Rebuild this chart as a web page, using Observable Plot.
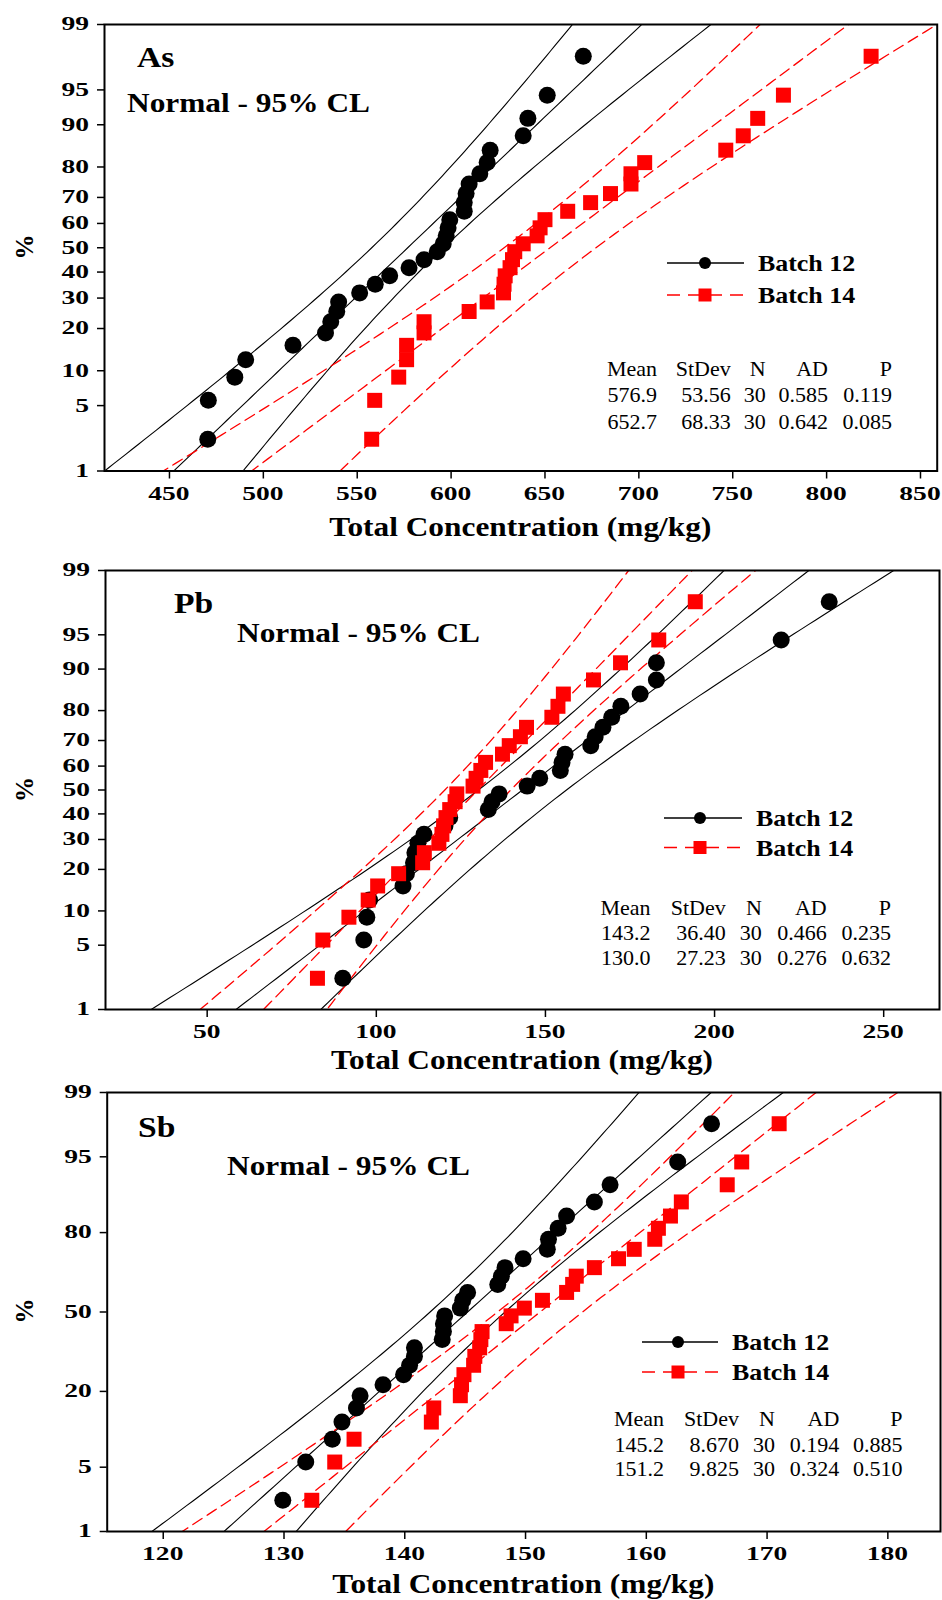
<!DOCTYPE html>
<html>
<head>
<meta charset="utf-8">
<script src="https://cdn.jsdelivr.net/npm/d3@7"></script>
<script src="https://cdn.jsdelivr.net/npm/@observablehq/plot@0.6"></script>
<style>
  html, body { margin: 0; padding: 0; background: #fff; }
  #chart svg { display: block; }
</style>
</head>
<body>
<div id="chart"></div>
<script>
// ---------------- DATA ----------------
// plotting positions (%) of the 30 ranked observations (median ranks)
const plotPositions = [2.30, 5.59, 8.88, 12.17, 15.46, 18.75, 22.04, 25.33, 28.62, 31.91,
  35.20, 38.49, 41.78, 45.07, 48.36, 51.64, 54.93, 58.22, 61.51, 64.80,
  68.09, 71.38, 74.67, 77.96, 81.25, 84.54, 87.83, 91.12, 94.41, 97.70];

const yTicksFine = [1, 5, 10, 20, 30, 40, 50, 60, 70, 80, 90, 95, 99];
const yTicksCoarse = [1, 5, 20, 50, 80, 95, 99];

const xTicksAs = [450, 500, 550, 600, 650, 700, 750, 800, 850];
const xTicksPb = [50, 100, 150, 200, 250];
const xTicksSb = [120, 130, 140, 150, 160, 170, 180];

const asBatch12 = [470.4, 470.7, 484.8, 490.6, 515.8, 533.1, 535.9, 539.1, 540.1, 551.3,
  559.6, 567.3, 577.6, 585.6, 592.6, 595.8, 597.4, 598.4, 599.3, 607.0,
  607.0, 608.0, 609.6, 615.3, 619.2, 620.8, 638.4, 640.9, 651.2, 670.4];
const asBatch14 = [557.7, 559.3, 572.1, 576.3, 576.3, 585.6, 585.6, 609.6, 619.2, 627.9,
  628.2, 628.8, 631.4, 632.7, 633.9, 638.4, 645.8, 647.4, 650.0, 662.1,
  674.3, 684.9, 695.8, 695.8, 703.1, 746.3, 755.6, 763.3, 777.0, 823.7];
const pbBatch12 = [90.1, 96.3, 97.2, 98.0, 107.9, 108.9, 111.0, 111.4, 112.3, 114.1,
  120.3, 121.7, 133.1, 134.2, 136.3, 144.6, 148.3, 154.4, 154.9, 155.8,
  163.4, 164.7, 167.0, 169.6, 172.3, 178.0, 182.8, 182.8, 219.7, 233.9];
const pbBatch14 = [82.6, 84.2, 91.9, 97.6, 100.4, 106.6, 113.7, 114.2, 118.5, 119.4,
  119.9, 120.6, 121.7, 123.3, 123.8, 128.6, 129.5, 130.9, 132.3, 137.3,
  139.3, 142.6, 144.4, 151.9, 153.7, 155.3, 164.2, 172.2, 183.5, 194.3];
const sbBatch12 = [129.9, 131.8, 134.0, 134.8, 136.0, 136.3, 138.2, 139.9, 140.4, 140.8,
  140.8, 143.1, 143.2, 143.2, 143.3, 144.6, 144.8, 145.2, 147.7, 148.0,
  148.3, 149.8, 151.8, 151.9, 152.7, 153.4, 155.7, 157.0, 162.6, 165.4];
const sbBatch14 = [132.3, 134.2, 135.8, 142.2, 142.4, 144.6, 144.7, 144.9, 145.7, 145.8,
  146.2, 146.3, 146.4, 148.4, 148.8, 149.9, 151.4, 153.4, 153.9, 154.2,
  155.7, 157.7, 159.0, 160.7, 161.0, 162.0, 162.9, 166.7, 167.9, 171.0];

const elements = ["As", "Pb", "Sb"];
const batchNames = ["Batch 12", "Batch 14"];
const mean12 = [576.9, 143.2, 145.2];
const sd12 = [53.56, 36.40, 8.670];
const mean14 = [652.7, 130.0, 151.2];
const sd14 = [68.33, 27.23, 9.825];
const sampleN = [30, 30, 30];
const statHeaders = ["Mean", "StDev", "N", "AD", "P"];
const statsBatch12 = [["576.9", "53.56", "30", "0.585", "0.119"],
                      ["143.2", "36.40", "30", "0.466", "0.235"],
                      ["145.2", "8.670", "30", "0.194", "0.885"]];
const statsBatch14 = [["652.7", "68.33", "30", "0.642", "0.085"],
                      ["130.0", "27.23", "30", "0.276", "0.632"],
                      ["151.2", "9.825", "30", "0.324", "0.510"]];
const subtitle = "Normal - 95% CL";
const xLabel = "Total Concentration (mg/kg)";
const yLabel = "%";

// ---------------- LAYOUT ----------------
const FONT = "'Liberation Serif', 'Times New Roman', Times, serif";
const RED = "#ff0000";
const layout = [
  { data: [asBatch12, asBatch14], xTicks: xTicksAs, yTicks: yTicksFine, xDomain: [415.4, 858.9],
    height: 545, m: { top: 24, bottom: 74.5, left: 104, right: 5.3 },
    label: [137, 67], sub: [127, 112],
    legend: { x1: 667, x2: 744, xm: 705, y: [263, 295], tx: 758 },
    stats: { base: [376, 402, 428.5], right: [657, 730.7, 765.7, 828, 892] },
    titleBase: 536, pctY: 247 },
  { data: [pbBatch12, pbBatch14], xTicks: xTicksPb, yTicks: yTicksFine, xDomain: [19.94, 266.5],
    height: 530, m: { top: 25, bottom: 66, left: 105, right: 3 },
    label: [174, 68], sub: [237, 97],
    legend: { x1: 664, x2: 742, xm: 700, y: [273, 302.5], tx: 756 },
    stats: { base: [370.3, 395.4, 420.2], right: [650.6, 725.7, 761.8, 826.7, 891] },
    titleBase: 524, pctY: 244.5 },
  { data: [sbBatch12, sbBatch14], xTicks: xTicksSb, yTicks: yTicksCoarse, xDomain: [115.36, 184.36],
    height: 525, m: { top: 17, bottom: 69, left: 106.7, right: 2 },
    label: [138, 62], sub: [227, 100],
    legend: { x1: 642, x2: 718, xm: 678, y: [267, 297], tx: 732 },
    stats: { base: [351, 376.6, 400.5], right: [664, 739, 775, 839.3, 902.4] },
    titleBase: 518, pctY: 236 }
];

// inverse standard normal CDF (Acklam) for the probability axis
function probit(p) {
  const a = [-3.969683028665376e+01, 2.209460984245205e+02, -2.759285104469687e+02, 1.383577518672690e+02, -3.066479806614716e+01, 2.506628277459239e+00];
  const b = [-5.447609879822406e+01, 1.615858368580409e+02, -1.556989798598866e+02, 6.680131188771972e+01, -1.328068155288572e+01];
  const c = [-7.784894002430293e-03, -3.223964580411365e-01, -2.400758277161838e+00, -2.549671010229297e+00, 4.374664141464968e+00, 2.938163982698783e+00];
  const d = [7.784695709041462e-03, 3.224671290700398e-01, 2.445134137142996e+00, 3.754408661907416e+00];
  const plow = 0.02425, phigh = 1 - plow;
  if (p < plow) {
    const q = Math.sqrt(-2 * Math.log(p));
    return (((((c[0]*q+c[1])*q+c[2])*q+c[3])*q+c[4])*q+c[5]) / ((((d[0]*q+d[1])*q+d[2])*q+d[3])*q+1);
  }
  if (p <= phigh) {
    const q = p - 0.5, r = q * q;
    return (((((a[0]*r+a[1])*r+a[2])*r+a[3])*r+a[4])*r+a[5])*q / (((((b[0]*r+b[1])*r+b[2])*r+b[3])*r+b[4])*r+1);
  }
  const q = Math.sqrt(-2 * Math.log(1 - p));
  return -(((((c[0]*q+c[1])*q+c[2])*q+c[3])*q+c[4])*q+c[5]) / ((((d[0]*q+d[1])*q+d[2])*q+d[3])*q+1);
}

// fitted normal line and 95% confidence band of the percentiles
const zGrid = d3.range(-2.45, 2.4501, 0.05);
function fitCurves(mean, sd, n) {
  return ["lower", "fit", "upper"].flatMap(key => zGrid.map(z => {
    const f = mean + sd * z;
    const se = sd * Math.sqrt(1 / n + z * z / (2 * n));
    const x = key === "fit" ? f : key === "lower" ? f - 1.96 * se : f + 1.96 * se;
    return { key, z, x };
  }));
}

function addText(g, str, x, y, o) {
  return g.append("text")
    .attr("transform", `translate(${x},${y})` + (o.rotate ? ` rotate(${o.rotate})` : "") + ` scale(${o.sx || 1},1)`)
    .attr("text-anchor", o.anchor || "start")
    .attr("font-family", FONT)
    .attr("font-size", o.size)
    .attr("font-weight", o.weight || "bold")
    .attr("fill", "#000")
    .text(str);
}

const chart = document.getElementById("chart");

layout.forEach((L, i) => {
  const yTickZ = L.yTicks.map(p => probit(p / 100));
  const pts12 = L.data[0].map((x, k) => ({ x, z: probit(plotPositions[k] / 100) }));
  const pts14 = L.data[1].map((x, k) => ({ x, z: probit(plotPositions[k] / 100) }));
  const curves12 = fitCurves(mean12[i], sd12[i], sampleN[i]);
  const curves14 = fitCurves(mean14[i], sd14[i], sampleN[i]);

  const svg = Plot.plot({
    width: 942,
    height: L.height,
    marginTop: L.m.top, marginBottom: L.m.bottom, marginLeft: L.m.left, marginRight: L.m.right,
    style: { fontFamily: FONT, background: "#fff", overflow: "visible", color: "#000" },
    x: { domain: L.xDomain, label: null },
    y: { domain: [probit(0.01), probit(0.99)], label: null },
    marks: [
      Plot.line(curves12, { x: "x", y: "z", z: "key", stroke: "#000", strokeWidth: 1.1, clip: true }),
      Plot.line(curves14, { x: "x", y: "z", z: "key", stroke: RED, strokeWidth: 1.3, strokeDasharray: "11,6", clip: true }),
      Plot.dot(pts12, { x: "x", y: "z", r: 8.5, fill: "#000" }),
      Plot.dot(pts14, { x: "x", y: "z", r: 8.46, symbol: "square", fill: RED }),
      Plot.axisX(L.xTicks, { tickSize: 8, tickFormat: () => "", strokeWidth: 1.5, label: null }),
      Plot.axisY(yTickZ, { tickSize: 7, tickFormat: () => "", strokeWidth: 1.5, label: null }),
      Plot.frame({ stroke: "#000", strokeWidth: 2 })
    ]
  });

  const g = d3.select(svg).append("g");
  const sx = svg.scale("x"), sy = svg.scale("y");
  const frameBottom = L.height - L.m.bottom;

  // tick labels (wide bold serif, as in the reference)
  L.xTicks.forEach(v => addText(g, String(v), sx.apply(v), frameBottom + 29, { size: 19, sx: 1.45, anchor: "middle" }));
  L.yTicks.forEach((p, k) => addText(g, String(p), L.m.left - 15, sy.apply(yTickZ[k]) + 6.4, { size: 19, sx: 1.45, anchor: "end" }));

  // panel name & subtitle
  addText(g, elements[i], L.label[0], L.label[1], { size: 30, sx: 1.12 });
  addText(g, subtitle, L.sub[0], L.sub[1], { size: 28, sx: 1.12 });
  // axis titles
  const cx = L.m.left + (942 - L.m.left - L.m.right) / 2;
  addText(g, xLabel, cx, L.titleBase, { size: 28, sx: 1.12, anchor: "middle" });
  addText(g, yLabel, 33, L.pctY, { size: 25, anchor: "middle", rotate: -90 });

  // legend
  const lg = L.legend;
  g.append("line").attr("x1", lg.x1).attr("x2", lg.x2).attr("y1", lg.y[0]).attr("y2", lg.y[0])
    .attr("stroke", "#000").attr("stroke-width", 1.3);
  g.append("circle").attr("cx", lg.xm).attr("cy", lg.y[0]).attr("r", 6).attr("fill", "#000");
  g.append("line").attr("x1", lg.x1).attr("x2", lg.x2).attr("y1", lg.y[1]).attr("y2", lg.y[1])
    .attr("stroke", RED).attr("stroke-width", 1.4).attr("stroke-dasharray", "13,8");
  g.append("rect").attr("x", lg.xm - 6.5).attr("y", lg.y[1] - 6.5).attr("width", 13).attr("height", 13).attr("fill", RED);
  batchNames.forEach((nm, k) => addText(g, nm, lg.tx, lg.y[k] + 8.3, { size: 24, sx: 1.08 }));

  // statistics table
  const rows = [statHeaders, statsBatch12[i], statsBatch14[i]];
  rows.forEach((row, r) => row.forEach((cell, c) =>
    addText(g, cell, L.stats.right[c], L.stats.base[r], { size: 20, sx: 1.1, weight: "normal", anchor: "end" })));

  chart.appendChild(svg);
});
</script>
</body>
</html>
